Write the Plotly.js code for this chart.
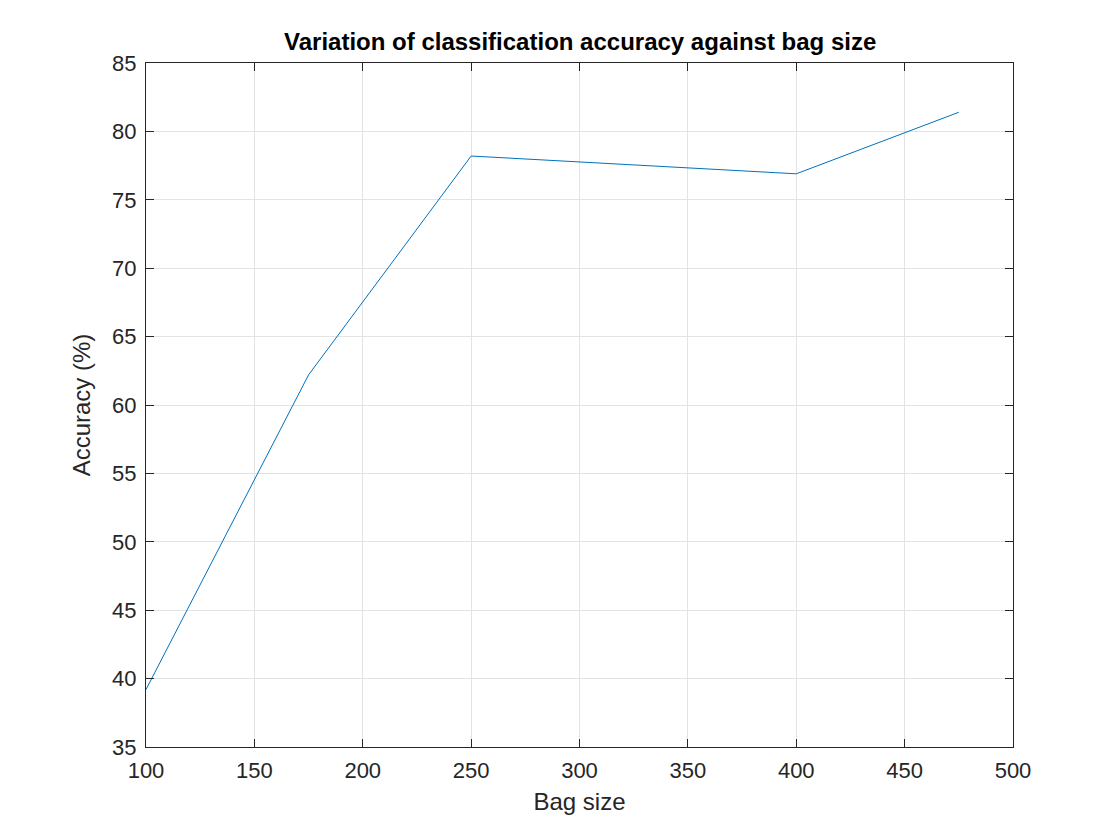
<!DOCTYPE html>
<html>
<head>
<meta charset="utf-8">
<script src="https://cdn.plot.ly/plotly-3.0.1.min.js"></script>
<style>body{margin:0;background:#fff}#chart{width:1120px;height:840px}</style>
</head>
<body>
<div id="chart"></div>
<script>
const bagSizes = [100, 175, 250, 400, 475];
const accuracy = [39.2, 62.2, 78.2, 76.9, 81.4];

const fontFamily = 'Liberation Sans, Arial, sans-serif';

const axisStyle = {
    showline: true, mirror: 'ticks', linecolor: '#262626', linewidth: 1,
    ticks: 'inside', ticklen: 8, tickcolor: '#262626',
    showgrid: true, gridcolor: '#e3e3e3', zeroline: false,
    ticklabelstandoff: 4,
    tickfont: { family: fontFamily, size: 22, color: '#262626' }
};

const trace = {
    x: bagSizes, y: accuracy, type: 'scatter', mode: 'lines',
    line: { color: '#0072BD', width: 1 }
};

const layout = {
    width: 1120, height: 840,
    margin: { l: 146, r: 107, t: 63, b: 93 },
    paper_bgcolor: '#fff', plot_bgcolor: '#fff',
    showlegend: false,
    title: { text: '<b>Variation of classification accuracy against bag size</b>',
             x: 0.518, xanchor: 'center', y: 0.95, yanchor: 'middle',
             font: { family: fontFamily, size: 24, color: '#000' } },
    xaxis: Object.assign({}, axisStyle, {
        range: [100, 500], dtick: 50,
        title: { text: 'Bag size', standoff: 10, font: { family: fontFamily, size: 24, color: '#262626' } }
    }),
    yaxis: Object.assign({}, axisStyle, {
        range: [35, 85], dtick: 5,
        title: { text: 'Accuracy (%)', standoff: 14, font: { family: fontFamily, size: 24, color: '#262626' } }
    })
};

Plotly.newPlot('chart', [trace], layout, { staticPlot: true });
</script>
</body>
</html>
